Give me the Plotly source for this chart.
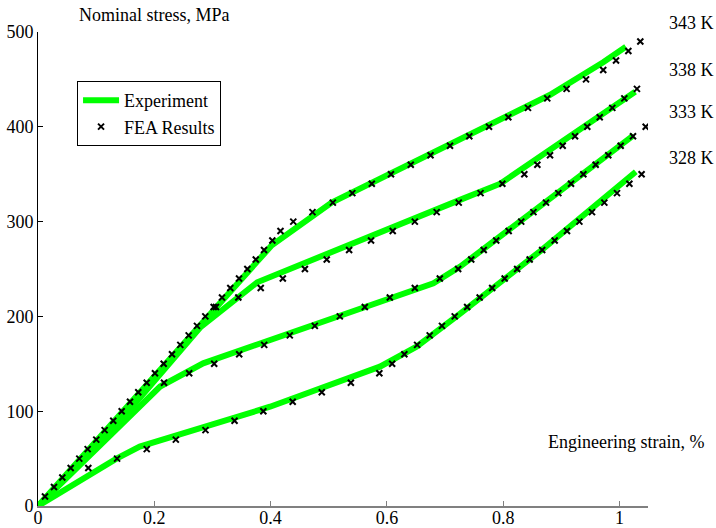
import plotly.graph_objects as go

# ---- Data ----
temps = ["343 K", "338 K", "333 K", "328 K"]

exp_343_x = [0, 0.402, 0.505, 0.691, 0.88, 0.972, 1.011]
exp_343_y = [0, 275, 320, 375.5, 433.5, 468, 484.5]
exp_338_x = [0, 0.14, 0.28, 0.33, 0.377, 0.73, 0.795, 1.027]
exp_338_y = [0, 89, 189, 213, 236, 324, 340, 437]
exp_333_x = [0, 0.21, 0.284, 0.68, 0.726, 1.024]
exp_333_y = [0, 126, 150.5, 235, 252.5, 391]
exp_328_x = [0, 0.135, 0.175, 0.399, 0.588, 0.651, 0.726, 0.866, 1.028]
exp_328_y = [0, 50, 62.6, 104.7, 147, 168, 203, 270, 352.6]

fea_343_x = [0.012, 0.0275, 0.0418, 0.0562, 0.0710, 0.0854, 0.1002, 0.1146, 0.1294, 0.1439,
             0.1582, 0.1724, 0.1869, 0.2011, 0.2161, 0.2304, 0.2447, 0.2591, 0.2734, 0.2877,
             0.3021, 0.3164, 0.3307, 0.3457, 0.3600, 0.3745, 0.3887, 0.403, 0.417, 0.439,
             0.472, 0.507, 0.5405, 0.574, 0.607, 0.641, 0.675, 0.7085, 0.7417, 0.7756,
             0.8088, 0.8426, 0.8758, 0.909, 0.9424, 0.972, 0.994, 1.0152, 1.0358]
fea_343_y = [10, 20, 30, 40, 50, 60, 70, 80, 90, 100,
             110, 120, 130, 140, 150, 160, 170, 180, 190, 200,
             210, 220, 230, 240, 250, 260, 270, 280, 290, 300,
             310, 320, 330, 340, 350, 360, 370, 380, 390, 400,
             410, 420, 430, 440, 450, 460, 470, 480, 490]

fea_338_x = [0.306, 0.3445, 0.383, 0.421, 0.459, 0.4965, 0.535, 0.5727, 0.610, 0.648,
             0.6856, 0.7235, 0.761, 0.7985, 0.8363, 0.8587, 0.8805, 0.9023, 0.9235, 0.9446,
             0.966, 0.9876, 1.0083, 1.030]
fea_338_y = [210, 220, 230, 240, 250, 260, 270, 280, 290, 300,
             310, 320, 330, 340, 350, 360, 370, 380, 390, 400,
             410, 420, 430, 440]

fea_333_x = [0.2167, 0.260, 0.303, 0.346, 0.389, 0.433, 0.476, 0.519, 0.562, 0.605,
             0.648, 0.691, 0.7225, 0.745, 0.7665, 0.788, 0.8094, 0.831, 0.852, 0.8736,
             0.8948, 0.9166, 0.9378, 0.959, 0.9807, 1.002, 1.0232, 1.045]
fea_333_y = [130, 140, 150, 160, 170, 180, 190, 200, 210, 220,
             230, 240, 250, 260, 270, 280, 290, 300, 310, 320,
             330, 340, 350, 360, 370, 380, 390, 400]

fea_328_x = [0.0865, 0.136, 0.187, 0.237, 0.288, 0.338, 0.3875, 0.438, 0.488, 0.538,
             0.587, 0.609, 0.630, 0.652, 0.6736, 0.6947, 0.7166, 0.738, 0.7595, 0.781,
             0.8025, 0.824, 0.8455, 0.867, 0.8885, 0.9097, 0.931, 0.9527, 0.9739, 0.9957,
             1.017, 1.038]
fea_328_y = [40, 50, 60, 70, 80, 90, 100, 110, 120, 130,
             140, 150, 160, 170, 180, 190, 200, 210, 220, 230,
             240, 250, 260, 270, 280, 290, 300, 310, 320, 330,
             340, 350]

x_ticks = [0, 0.2, 0.4, 0.6, 0.8, 1]
x_ticktext = ["0", "0.2", "0.4", "0.6", "0.8", "1"]
y_ticks = [0, 100, 200, 300, 400, 500]

# label positions (paper coords)
temp_label_y = [1.019, 0.92, 0.831, 0.734]

FONT = "Liberation Serif"
GREEN = "#00ff00"

fig = go.Figure()

exp_sets = [(exp_343_x, exp_343_y), (exp_338_x, exp_338_y),
            (exp_333_x, exp_333_y), (exp_328_x, exp_328_y)]
for i, (xs, ys) in enumerate(exp_sets):
    fig.add_trace(go.Scatter(
        x=xs, y=ys, mode="lines",
        line=dict(color=GREEN, width=6),
        name="Experiment", legendgroup="exp", showlegend=(i == 0),
        hoverinfo="skip"))

fea_sets = [(fea_343_x, fea_343_y), (fea_338_x, fea_338_y),
            (fea_333_x, fea_333_y), (fea_328_x, fea_328_y)]
for i, (xs, ys) in enumerate(fea_sets):
    fig.add_trace(go.Scatter(
        x=xs, y=ys, mode="markers",
        marker=dict(symbol="x-thin", size=6, color="black",
                    line=dict(color="black", width=2)),
        name="FEA Results", legendgroup="fea", showlegend=(i == 0),
        hoverinfo="skip"))

annotations = [
    dict(text="Nominal stress, MPa", xref="paper", yref="paper",
         x=0.064, y=1.036, xanchor="left", yanchor="middle", showarrow=False,
         font=dict(family=FONT, size=18, color="black")),
    dict(text="Engineering strain, %", xref="paper", yref="paper",
         x=1.095, y=0.135, xanchor="right", yanchor="middle", showarrow=False,
         font=dict(family=FONT, size=18, color="black")),
]
for t, yy in zip(temps, temp_label_y):
    annotations.append(dict(text=t, xref="paper", yref="paper",
                            x=1.031, y=yy, xanchor="left", yanchor="middle",
                            showarrow=False,
                            font=dict(family=FONT, size=18, color="black")))

fig.update_layout(
    width=716, height=528,
    margin=dict(l=38, r=68, t=32, b=22),
    paper_bgcolor="white", plot_bgcolor="white",
    font=dict(family=FONT, size=18, color="black"),
    showlegend=True,
    legend=dict(x=0.064, y=0.8965, xanchor="left", yanchor="top",
                bordercolor="black", borderwidth=1, bgcolor="white",
                font=dict(family=FONT, size=18, color="black"),
                tracegroupgap=0, itemwidth=36),
    annotations=annotations,
    xaxis=dict(range=[0, 1.049], tickvals=x_ticks, ticktext=x_ticktext,
               ticks="inside", ticklen=5, tickcolor="#808080",
               showline=True, linecolor="#808080", linewidth=2,
               showgrid=False, zeroline=False, automargin=False,
               ticklabelstandoff=-6,
               tickfont=dict(family=FONT, size=18, color="black")),
    yaxis=dict(range=[0, 500], tickvals=y_ticks,
               ticks="inside", ticklen=5, tickcolor="black",
               showline=True, linecolor="black", linewidth=1,
               showgrid=False, zeroline=False, automargin=False,
               tickfont=dict(family=FONT, size=18, color="black")),
)

fig.write_html("out.html")
